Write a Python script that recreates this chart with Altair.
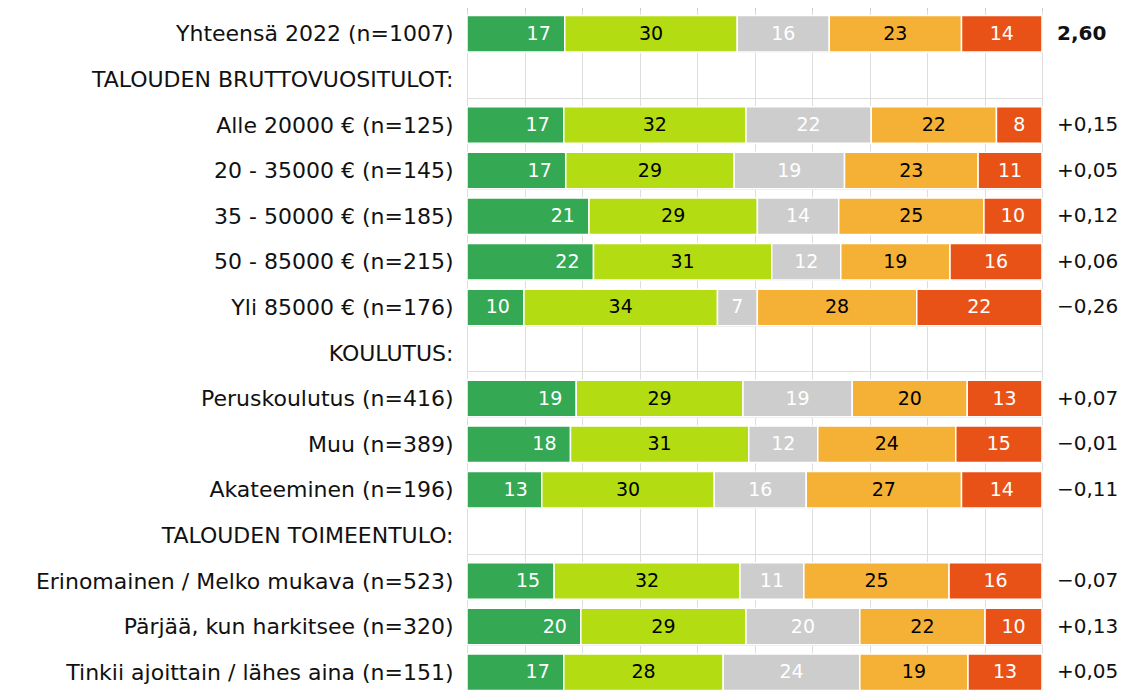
import altair as alt
import pandas as pd

row_order = [
    "Yhteensä 2022 (n=1007)",
    "TALOUDEN BRUTTOVUOSITULOT:",
    "Alle 20000 € (n=125)",
    "20 - 35000 € (n=145)",
    "35 - 50000 € (n=185)",
    "50 - 85000 € (n=215)",
    "Yli 85000 € (n=176)",
    "KOULUTUS:",
    "Peruskoulutus (n=416)",
    "Muu (n=389)",
    "Akateeminen (n=196)",
    "TALOUDEN TOIMEENTULO:",
    "Erinomainen / Melko mukava (n=523)",
    "Pärjää, kun harkitsee (n=320)",
    "Tinkii ajoittain / lähes aina (n=151)",
]
bar_rows = [r for r in row_order if not r.endswith(":")]

s1 = [17, 17, 17, 21, 22, 10, 19, 18, 13, 15, 20, 17]
s2 = [30, 32, 29, 29, 31, 34, 29, 31, 30, 32, 29, 28]
s3 = [16, 22, 19, 14, 12, 7, 19, 12, 16, 11, 20, 24]
s4 = [23, 22, 23, 25, 19, 28, 20, 24, 27, 25, 22, 19]
s5 = [14, 8, 11, 10, 16, 22, 13, 15, 14, 16, 10, 13]
scores = ["2,60", "+0,15", "+0,05", "+0,12", "+0,06", "−0,26",
          "+0,07", "−0,01", "−0,11", "−0,07", "+0,13", "+0,05"]

categories = ["1", "2", "3", "4", "5"]
bar_colors = ["#35a853", "#b4dc12", "#cdcdcd", "#f5b036", "#e85217"]
text_colors = ["white", "black", "white", "black", "white"]

series = [s1, s2, s3, s4, s5]
records = []
for ci, (cat, vals) in enumerate(zip(categories, series)):
    for r, v in zip(bar_rows, vals):
        records.append({"row": r, "cat": cat, "order": ci + 1, "value": v,
                        "fill": bar_colors[ci], "tc": text_colors[ci]})
df = pd.DataFrame(records)
sdf = pd.DataFrame({"row": bar_rows, "score": scores})

FONT = "DejaVu Sans"

y = alt.Y(
    "row:N",
    scale=alt.Scale(domain=row_order, paddingInner=0.2, paddingOuter=0.1),
    axis=alt.Axis(title=None, labelFontSize=22, labelFont=FONT, labelColor="#111111",
                  labelPadding=14, labelLimit=700, domain=False, ticks=False,
                  grid=True, gridColor="#dddddd", tickBand="extent"),
)
xscale = alt.Scale(domain=[0, 1], nice=False)
xaxis = alt.Axis(orient="top", values=[i / 10 for i in range(11)], labels=False,
                 ticks=True, tickSize=7, tickColor="#cccccc", domain=False,
                 grid=True, gridColor="#dddddd", title=None)

base = alt.Chart(df).transform_stack(
    stack="value", groupby=["row"], as_=["x0", "x1"], offset="normalize",
    sort=[alt.SortField("order")]
)

bars = base.mark_bar(stroke="white", strokeWidth=1.5).encode(
    x=alt.X("x0:Q", scale=xscale, axis=xaxis),
    x2="x1:Q",
    y=y,
    color=alt.Color("fill:N", scale=None),
)

text_mid = base.transform_filter("datum.order > 1").transform_calculate(
    xm="(datum.x0 + datum.x1) / 2"
).mark_text(fontSize=19, font=FONT).encode(
    x=alt.X("xm:Q", scale=xscale),
    y=y,
    text="value:Q",
    color=alt.Color("tc:N", scale=None),
)

text_green = base.transform_filter("datum.order == 1").mark_text(
    fontSize=19, font=FONT, align="right", dx=-14
).encode(
    x=alt.X("x1:Q", scale=xscale),
    y=y,
    text="value:Q",
    color=alt.Color("tc:N", scale=None),
)

score_bold = alt.Chart(sdf).transform_filter(
    alt.datum.row == bar_rows[0]
).mark_text(fontSize=20, font=FONT, fontWeight="bold", align="left", dx=15, color="#111111").encode(
    x=alt.datum(1), y=y, text="score:N"
)
score_norm = alt.Chart(sdf).transform_filter(
    alt.datum.row != bar_rows[0]
).mark_text(fontSize=20, font=FONT, align="left", dx=15, color="#111111").encode(
    x=alt.datum(1), y=y, text="score:N"
)

chart = alt.layer(bars, text_mid, text_green, score_bold, score_norm).properties(
    width=575,
    height=684,
    autosize=alt.AutoSizeParams(type="none"),
    padding={"left": 459, "top": 3, "right": 77, "bottom": 0},
).configure_view(stroke=None)

chart.save("out.html", embed_options={"renderer": "svg", "actions": False})
